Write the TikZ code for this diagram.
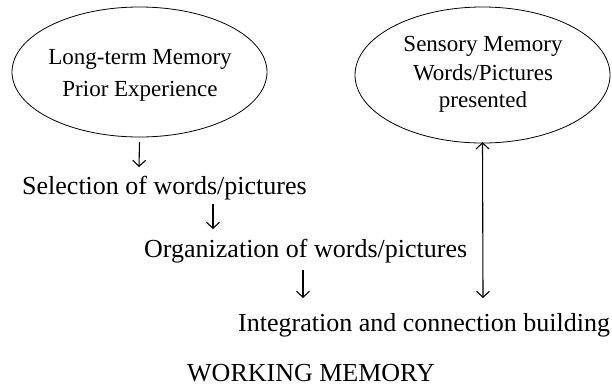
\documentclass[tikz,border=0pt]{standalone}
\usepackage{fontspec}
\setmainfont{Liberation Serif}
\usetikzlibrary{arrows.meta}
\begin{document}
\begin{tikzpicture}[x=1pt,y=-1pt,
  oval/.style={draw,line width=0.8pt,ellipse,inner sep=0pt},
  big/.style={inner sep=0pt,font=\fontsize{26}{30}\selectfont},
  small/.style={inner sep=0pt,font=\fontsize{23}{28}\selectfont},
  conn/.style={line width=1.1pt,-{Straight Barb[length=6pt,width=13pt,line width=1.1pt]}},
  both/.style={line width=1.1pt,{Straight Barb[length=6pt,width=13pt,line width=1.1pt]}-{Straight Barb[length=6pt,width=13pt,line width=1.1pt]}}]
\useasboundingbox (0,0) rectangle (612,386);
% ellipses
\draw[line width=0.8pt] (139.5,72) ellipse [x radius=127.5, y radius=65];
\node[minimum width=255pt,minimum height=130pt,inner sep=0pt] (le) at (139.5,72) {};
\draw[line width=0.8pt] (482.5,75) ellipse [x radius=127.5, y radius=68];
\node[minimum width=255pt,minimum height=136pt,inner sep=0pt] (re) at (482.5,75) {};
% ellipse texts
\node[small,anchor=base] (l1) at (140,64) {Long-term Memory};
\node[small,anchor=base] (l2) at (140,96) {Prior Experience};
\node[small,anchor=base] (r1) at (483,51) {Sensory Memory};
\node[small,anchor=base] (r2) at (483,80) {Words/Pictures};
\node[small,anchor=base] (r3) at (483,107) {presented};
% process texts
\node[big,anchor=base west] (sel) at (22,194) {Selection of words/pictures};
\node[big,anchor=base west] (org) at (144,257) {Organization of words/pictures};
\node[big,anchor=base west] (int) at (238,331) {Integration and connection building};
\node[big,anchor=base west] (wm) at (187,381) {WORKING MEMORY};
% free ends
\coordinate (a1e) at (139,167);
\coordinate (a2s) at (213,204);
\coordinate (a2e) at (213,229);
\coordinate (a3s) at (303,270);
\coordinate (a3e) at (303,298);
\coordinate (lbe) at (483,298);
% connectors
\draw[conn] (le.south) ++(0,5) -- (a1e);
\draw[conn] (a2s) -- (a2e);
\draw[conn] (a3s) -- (a3e);
\draw[both] (re.south) ++(0,-1) -- (lbe);
\end{tikzpicture}
\end{document}
